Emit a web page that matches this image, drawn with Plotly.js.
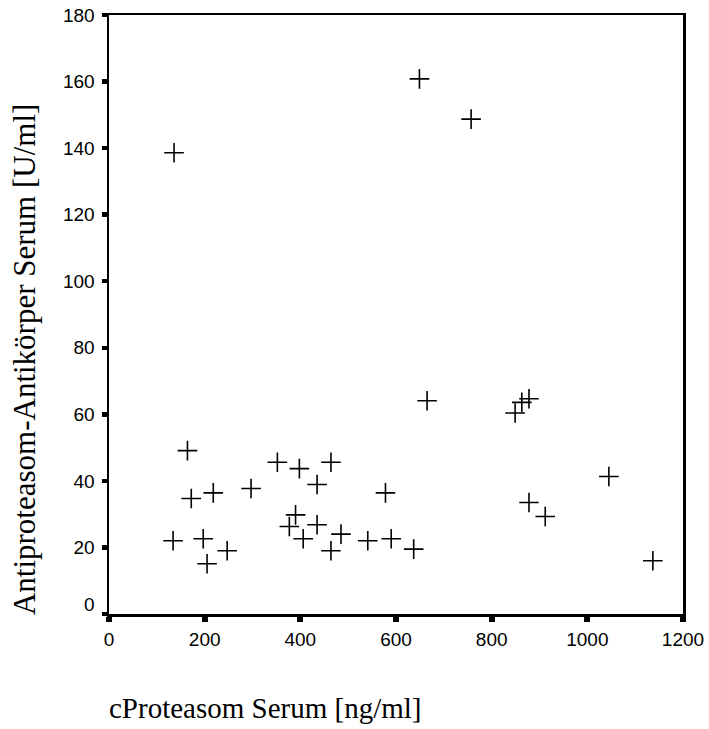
<!DOCTYPE html>
<html>
<head>
<meta charset="utf-8">
<script src="https://cdn.plot.ly/plotly-3.0.1.min.js"></script>
<style>html,body{margin:0;padding:0;background:#fff;}#chart{width:709px;height:729px;}</style>
</head>
<body>
<div id="chart"></div>
<script>
const cProteasom = [136,134,164,172,197,205,218,247,297,352,377,390,398,406,435,435,464,464,485,
  665,578,541,590,637,849,863,878,878,912,1045,1137,649,757];
const antikoerper = [138.6,22.0,49.1,34.7,22.6,15.1,36.4,19.0,37.7,45.6,26.3,29.8,43.7,22.6,38.9,26.8,45.6,19.0,24.0,
  64.1,36.4,22.0,22.6,19.5,60.4,63.6,64.7,33.5,29.3,41.3,16.0,160.8,148.7];
const xTicks = [0,200,400,600,800,1000,1200];
const yTicks = [0,20,40,60,80,100,120,140,160,180];
const yTickText = ['','20','40','60','80','100','120','140','160','180'];
const xTitle = "cProteasom Serum [ng/ml]";
const yTitle = "Antiproteasom-Antikörper Serum [U/ml]";

const trace = {
  x: cProteasom, y: antikoerper, type: 'scatter', mode: 'markers',
  marker: {symbol: 'cross-thin', size: 14, color: '#000', line: {color: '#000', width: 1.6}},
  hoverinfo: 'x+y'
};
const tickFont = {family: 'Liberation Sans, Arial, sans-serif', size: 19, color: '#000'};
const titleFont = {family: 'Liberation Serif, Times New Roman, serif', size: 29, color: '#000'};
const layout = {
  width: 709, height: 729,
  margin: {l: 109, r: 26, t: 15, b: 115},
  paper_bgcolor: '#fff', plot_bgcolor: '#fff',
  showlegend: false,
  xaxis: {range: [0, 1200], tickmode: 'array', tickvals: xTicks, ticktext: xTicks.map(String),
    showgrid: false, zeroline: false, showline: true, linecolor: '#000', linewidth: 2.5, mirror: true,
    ticks: 'outside', ticklen: 5, tickwidth: 6, tickcolor: '#000', tickfont: tickFont, ticklabelstandoff: 2},
  yaxis: {range: [0, 180], tickmode: 'array', tickvals: yTicks, ticktext: yTickText,
    showgrid: false, zeroline: false, showline: true, linecolor: '#000', linewidth: 2.5, mirror: true,
    ticks: 'outside', ticklen: 5, tickwidth: 4.5, tickcolor: '#000', tickfont: tickFont, ticklabelstandoff: 3},
  annotations: [
    {text: '0', xref: 'paper', yref: 'y', x: 0, y: 2.8, xanchor: 'right', yanchor: 'middle', xshift: -12,
      showarrow: false, font: tickFont},
    {text: xTitle, xref: 'paper', yref: 'paper', x: -0.003, y: -0.157, xanchor: 'left', yanchor: 'middle',
      showarrow: false, font: titleFont},
    {text: yTitle, xref: 'paper', yref: 'paper', x: -0.148, y: 0.424, xanchor: 'center', yanchor: 'middle',
      textangle: -90, showarrow: false, font: {family: 'Liberation Serif, Times New Roman, serif', size: 31, color: '#000'}}
  ]
};
Plotly.newPlot('chart', [trace], layout, {displayModeBar: false, staticPlot: true});
</script>
</body>
</html>
